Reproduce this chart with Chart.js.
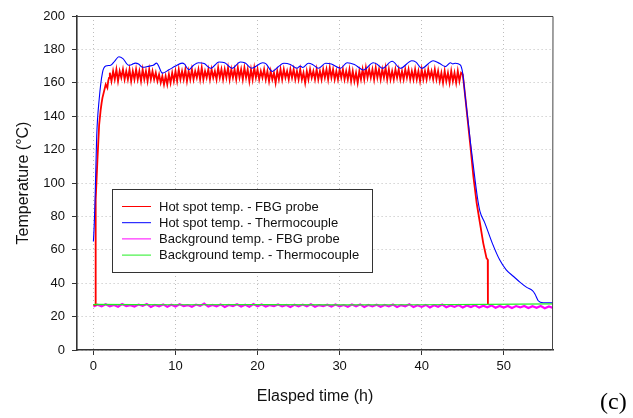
<!DOCTYPE html>
<html>
<head>
<meta charset="utf-8">
<script src="https://cdn.jsdelivr.net/npm/chart.js@4"></script>
<style>
  html, body { margin: 0; padding: 0; background: #fff; }
</style>
</head>
<body>
<canvas id="chart" width="633" height="418"></canvas>
<script>
// ---- data ----
const xTicks = [0, 10, 20, 30, 40, 50];

const seriesNames = [
  'Hot spot temp. - FBG probe',
  'Hot spot temp. - Thermocouple',
  'Background temp. - FBG probe',
  'Background temp. - Thermocouple'
];

// hot spot, FBG probe: warm-up, noisy plateau (sampled every 0.2 h from 2 h), cool-down
const hotFbgRiseTime = [0, 0.2, 0.25, 0.3, 0.49, 0.6, 0.7, 0.89, 1.0, 1.1, 1.3, 1.5, 1.7, 1.8, 1.9];
const hotFbgRiseVal  = [27, 27, 60, 90, 114, 125, 135, 144, 148, 151, 155, 159, 157, 161, 163];
const hotFbgPlateauStart = 2.0;
const hotFbgPlateauStep = 0.2;
const hotFbgPlateauVal = [
  166,161,167,162,168,161,167,163,168,162,
  167,162,168,161,167,162,168,162,167,161,
  168,162,167,161,168,162,167,162,166,161,
  165,160,164,159,164,159,165,160,166,161,
  167,161,168,162,167,162,168,161,167,162,
  168,162,167,163,168,162,169,162,167,163,
  168,162,168,163,167,162,169,163,168,162,
  168,163,169,162,168,163,168,162,169,163,
  168,162,169,163,168,161,168,162,169,163,
  168,162,167,163,168,162,167,161,167,162,
  166,160,167,162,168,162,168,163,167,162,
  168,163,168,162,167,162,168,162,166,160,
  167,162,168,163,167,162,168,162,167,162,
  168,163,168,162,169,163,168,162,167,162,
  168,163,168,162,167,162,168,161,167,161,
  166,160,167,162,168,162,169,163,168,163,
  168,162,169,163,168,162,168,163,169,162,
  168,162,167,162,168,163,168,162,167,162,
  168,163,168,162,167,162,168,162,167,161,
  168,162,167,162,168,163,167,162,168,162,
  167,161,166,160,167,161,166,160,167,161,
  166,160,167,161,166
];
const hotFbgFallTime = [45.0, 45.1, 45.3, 45.6, 46.0, 46.3, 46.7, 47.1, 47.5, 47.9, 48.05, 48.07];
const hotFbgFallVal  = [165, 161, 152, 138, 119, 104, 88, 76, 64, 55, 54, 27];

// hot spot, thermocouple
const hotTcTime = [0, 0.1, 0.2, 0.4, 0.7, 1.1, 1.5, 2.1, 2.6, 3.1, 3.6, 4.3, 4.7, 5.1, 5.5, 5.9,
  6.2, 6.8, 7.3, 7.7, 7.9, 8.4, 9.2, 10.0, 10.8, 11.1, 11.6, 12.2, 12.8, 13.5, 14.3, 15.3,
  16.0, 16.9, 17.9, 18.5, 19.3, 20.6, 21.0, 21.8, 22.5, 23.2, 24.0, 24.8, 25.2, 25.5, 26.2,
  26.7, 27.4, 28.3, 29.0, 30.1, 30.9, 31.8, 32.9, 34.1, 34.6, 35.2, 36.4, 37.4, 38.8, 39.3,
  40.0, 41.4, 42.2, 42.9, 43.5, 43.8, 44.1, 44.7, 45.0, 45.3, 46.0, 46.5, 46.8, 47.1, 47.7,
  48.6, 49.5, 50.3, 51.2, 52.0, 52.8, 53.5, 53.8, 54.2, 54.8, 56];
const hotTcVal = [65, 75, 90, 128, 150, 166, 170, 170.5, 173, 175.6, 174.5, 170.5, 171, 171.8, 171.3, 169.5,
  169.3, 170, 170.5, 171.8, 170.5, 165.8, 167.8, 170, 171.8, 171.2, 167.8, 170.5, 172, 171.5, 168.7, 172.5,
  172, 168.7, 172.5, 171.8, 168.7, 172, 171.5, 166.8, 169.5, 171.7, 171, 168.7, 170, 169.2, 171.7,
  171, 168.7, 171.7, 171.2, 168.7, 172, 171, 167.7, 172, 171, 168.7, 172.9, 168.7, 173.2, 172.4,
  168.7, 173.2, 171.5, 169.7, 172, 171.3, 171.7, 170.7, 165.7, 152, 122, 102, 91, 83, 76,
  64, 54, 48, 44, 40.5, 37.5, 35.5, 33.5, 29.5, 28.3, 28.3];

// background, FBG probe (sampled every 0.5 h from 0 h)
const bgFbgStart = 0;
const bgFbgStep = 0.5;
const bgFbgVal = [
  26.0,27.1,26.2,27.4,26.1,26.9,25.9,27.5,26.3,26.8,
  26.0,27.2,26.4,27.6,25.8,27.0,26.2,27.3,25.9,27.1,
  26.1,27.4,26.3,26.9,25.9,27.2,26.4,27.8,26.0,27.0,
  26.2,27.3,25.8,27.0,26.3,27.4,26.1,27.1,25.9,27.5,
  26.2,27.2,26.0,26.9,26.3,27.3,26.1,27.0,25.8,27.1,
  26.1,27.2,26.2,27.4,25.9,26.9,26.3,27.1,26.0,27.2,
  26.1,26.9,25.9,27.2,26.2,27.3,25.8,27.0,26.1,27.1,
  25.9,27.0,26.1,27.2,25.8,26.9,26.2,27.4,25.7,26.8,
  25.8,27.0,25.5,26.8,25.9,27.2,25.6,26.7,25.8,26.9,
  25.5,26.7,25.7,26.8,25.4,26.5,25.6,26.7,25.3,26.4,
  25.4,26.4,25.2,26.3,25.5,26.4,25.1,26.2,25.3,26.3,
  25.0,26.1,25.2
];

// background, thermocouple
const bgTcTime = [0, 0.3, 10, 20, 30, 40, 48, 56];
const bgTcVal  = [27.2, 27.3, 27.1, 27.2, 27.0, 27.1, 27.3, 27.6];

// ---- build point lists ----
function pairs(times, vals) {
  return vals.map((v, i) => ({ x: times[i], y: v }));
}
function sampled(start, step, vals) {
  return vals.map((v, i) => ({ x: +(start + i * step).toFixed(3), y: v }));
}

const hotFbgData = pairs(hotFbgRiseTime, hotFbgRiseVal)
  .concat(sampled(hotFbgPlateauStart, hotFbgPlateauStep, hotFbgPlateauVal))
  .concat(pairs(hotFbgFallTime, hotFbgFallVal));

const FONT = "'Liberation Sans', Arial, sans-serif";

// legend box drawn inside the plot, plus the frame and the panel tag
const framePlugin = {
  id: 'frame',
  afterDraw(chart) {
    const ctx = chart.ctx;
    const a = chart.chartArea;
    ctx.save();
    ctx.strokeStyle = '#444';
    ctx.lineWidth = 1;
    ctx.beginPath();
    ctx.moveTo(a.left, a.top + 0.5);
    ctx.lineTo(a.right, a.top + 0.5);
    ctx.lineTo(a.right - 0.5, a.bottom);
    ctx.stroke();

    // legend
    const bx = 112.5, by = 189.5, bw = 260, bh = 83;
    ctx.fillStyle = '#fff';
    ctx.fillRect(bx, by, bw, bh);
    ctx.strokeStyle = '#333';
    ctx.strokeRect(bx, by, bw, bh);
    ctx.font = '13px ' + FONT;
    ctx.textBaseline = 'middle';
    ctx.textAlign = 'left';
    chart.data.datasets.forEach((ds, i) => {
      const y = 206.5 + i * 16.2;
      ctx.strokeStyle = ds.borderColor;
      ctx.lineWidth = 1;
      ctx.beginPath();
      ctx.moveTo(122, y);
      ctx.lineTo(151, y);
      ctx.stroke();
      ctx.fillStyle = '#111';
      ctx.fillText(ds.label, 159, y + 0.5);
    });

    ctx.font = "24px 'Liberation Serif', 'Times New Roman', serif";
    ctx.fillStyle = '#000';
    ctx.textBaseline = 'alphabetic';
    ctx.fillText('(c)', 600, 409);
    ctx.restore();
  }
};

new Chart(document.getElementById('chart'), {
  type: 'line',
  data: {
    datasets: [
      { label: seriesNames[0], data: hotFbgData, borderColor: '#ff0000', borderWidth: 1.8, order: 2 },
      { label: seriesNames[1], data: pairs(hotTcTime, hotTcVal), borderColor: '#0000ff', borderWidth: 1.1,
        cubicInterpolationMode: 'monotone', order: 1 },
      { label: seriesNames[2], data: sampled(bgFbgStart, bgFbgStep, bgFbgVal), borderColor: '#ff00ff', borderWidth: 2.2, order: 3 },
      { label: seriesNames[3], data: pairs(bgTcTime, bgTcVal), borderColor: '#22ee22', borderWidth: 1.2, order: 0 }
    ]
  },
  options: {
    responsive: false,
    animation: false,
    devicePixelRatio: 1,
    layout: { padding: { left: 0, right: 80, top: 16, bottom: 0 } },
    elements: { point: { radius: 0 }, line: { tension: 0 } },
    plugins: { legend: { display: false }, tooltip: { enabled: false } },
    scales: {
      x: {
        type: 'linear',
        min: -2,
        max: 56,
        afterBuildTicks: (scale) => { scale.ticks = xTicks.map(v => ({ value: v })); },
        afterFit: (scale) => { scale.height = 68; },
        ticks: { color: '#111', font: { family: FONT, size: 13 }, padding: 4, maxRotation: 0 },
        grid: { color: '#bdbdbd', lineWidth: 1, tickLength: 5, tickColor: '#333', tickWidth: 1, tickBorderDash: [] },
        border: { color: '#333', width: 1.6, dash: [1, 3] },
        title: { display: true, text: 'Elasped time (h)', color: '#111', font: { family: FONT, size: 16 }, padding: { top: 0, bottom: 11.4 } }
      },
      y: {
        min: 0,
        max: 200,
        ticks: { stepSize: 20, color: '#111', font: { family: FONT, size: 13 }, padding: 7 },
        afterFit: (scale) => { scale.width = 77; },
        grid: { color: '#bdbdbd', lineWidth: 1, tickLength: 5, tickColor: '#333', tickWidth: 1, tickBorderDash: [] },
        border: { color: '#333', width: 1.6, dash: [1, 3] },
        title: { display: true, text: 'Temperature (°C)', color: '#111', font: { family: FONT, size: 16 }, padding: { top: 14, bottom: 0 } }
      }
    }
  },
  plugins: [framePlugin]
});
</script>
</body>
</html>
